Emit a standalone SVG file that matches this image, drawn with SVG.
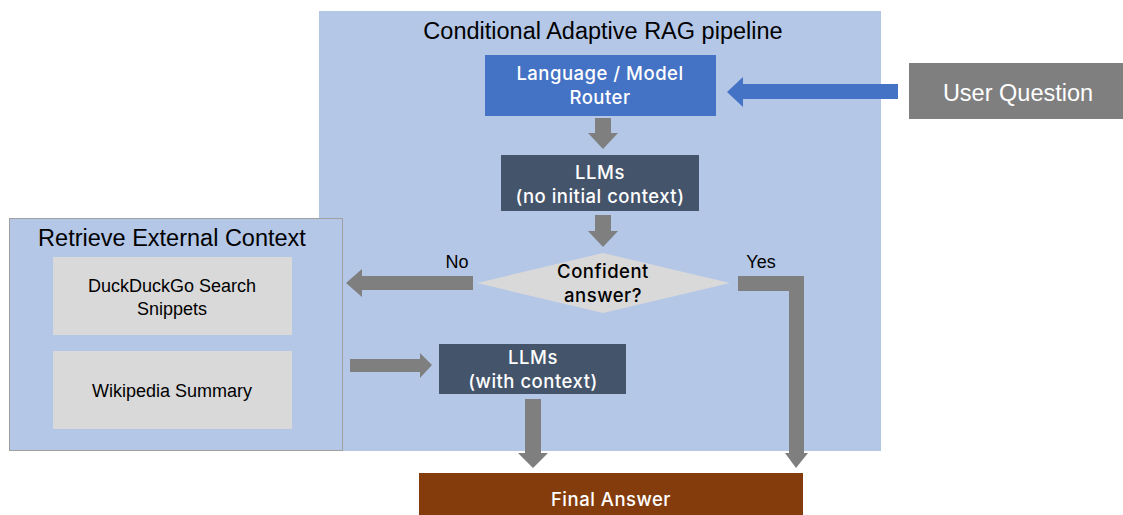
<svg xmlns="http://www.w3.org/2000/svg" width="1123" height="515" viewBox="0 0 1123 515">
<style>
.cal{font-family:"Liberation Sans","Open Sans",sans-serif;}
.ovp{font-family:Inter,"Open Sans",sans-serif;font-size:18.5px;font-weight:500;letter-spacing:0.5px;}
.w{fill:#FFFFFF;}
.k{fill:#000000;}
.garr{fill:#7F7F7F;}
.barr{fill:#4472C4;}
</style>
<rect width="1123" height="515" fill="#FFFFFF"/>
<g id="pipeline">
<rect x="319" y="11" width="562" height="440" fill="#B4C7E7"/>
<text class="cal k" x="603" y="39" font-size="23.5" text-anchor="middle">Conditional Adaptive RAG pipeline</text>
</g>
<g id="retrieve">
<rect x="9.5" y="218.5" width="333" height="232" fill="#B4C7E7" stroke="#A0A0A0" stroke-width="1"/>
<text class="cal k" x="172" y="246" font-size="23.5" text-anchor="middle">Retrieve External Context</text>
</g>
<g id="duckduckgo">
<rect x="53" y="257" width="239" height="78" fill="#D9D9D9"/>
<text class="cal k" x="172" y="292" font-size="18" text-anchor="middle">DuckDuckGo Search</text>
<text class="cal k" x="172" y="315" font-size="18" text-anchor="middle">Snippets</text>
</g>
<g id="wikipedia">
<rect x="53" y="351" width="239" height="78" fill="#D9D9D9"/>
<text class="cal k" x="172" y="397" font-size="18" text-anchor="middle">Wikipedia Summary</text>
</g>
<g id="router">
<rect x="485" y="55" width="231" height="61" fill="#4472C4"/>
<text class="ovp w" x="600" y="80" text-anchor="middle">Language / Model</text>
<text class="ovp w" x="600" y="104" text-anchor="middle">Router</text>
</g>
<g id="user-question">
<rect x="909" y="63" width="214" height="56" fill="#7F7F7F"/>
<text class="cal w" x="1018" y="101" font-size="23.5" text-anchor="middle">User Question</text>
</g>
<g id="llm-no-context">
<rect x="501" y="155" width="198" height="56" fill="#44546A"/>
<text class="ovp w" x="600" y="179" text-anchor="middle">LLMs</text>
<text class="ovp w" x="600" y="203" text-anchor="middle">(no initial context)</text>
</g>
<g id="decision">
<polygon points="477,283 603,253 730,283 603,313" fill="#D9D9D9"/>
<text class="ovp k" x="603" y="278" text-anchor="middle">Confident</text>
<text class="ovp k" x="603" y="302" text-anchor="middle">answer?</text>
</g>
<g id="llm-with-context">
<rect x="439" y="344" width="187" height="50" fill="#44546A"/>
<text class="ovp w" x="533" y="364" text-anchor="middle">LLMs</text>
<text class="ovp w" x="533" y="388" text-anchor="middle">(with context)</text>
</g>
<g id="final-answer">
<rect x="419" y="473" width="384" height="42" fill="#843C0C"/>
<text class="ovp w" x="611" y="506" text-anchor="middle">Final Answer</text>
</g>
<g id="connectors">
<polygon class="barr" points="898,84 743,84 743,77 727,92 743,107 743,99 898,99"/>
<polygon class="garr" points="595,118 611,118 611,133 618,133 603,149 588,133 595,133"/>
<polygon class="garr" points="595,215 611,215 611,231 618,231 603,247 588,231 595,231"/>
<polygon class="garr" points="473,276 362,276 362,269 346,283 362,297 362,290 473,290"/>
<text class="cal k" x="457" y="268" font-size="18" text-anchor="middle">No</text>
<polygon class="garr" points="738,276 804,276 804,453 808,453 796,468 785,453 789,453 789,291 738,291"/>
<text class="cal k" x="761" y="268" font-size="18" text-anchor="middle">Yes</text>
<polygon class="garr" points="350,359 420,359 420,353 432,365 420,378 420,372 350,372"/>
<polygon class="garr" points="525,399 541,399 541,453 548,453 533,468 518,453 525,453"/>
</g>
</svg>
